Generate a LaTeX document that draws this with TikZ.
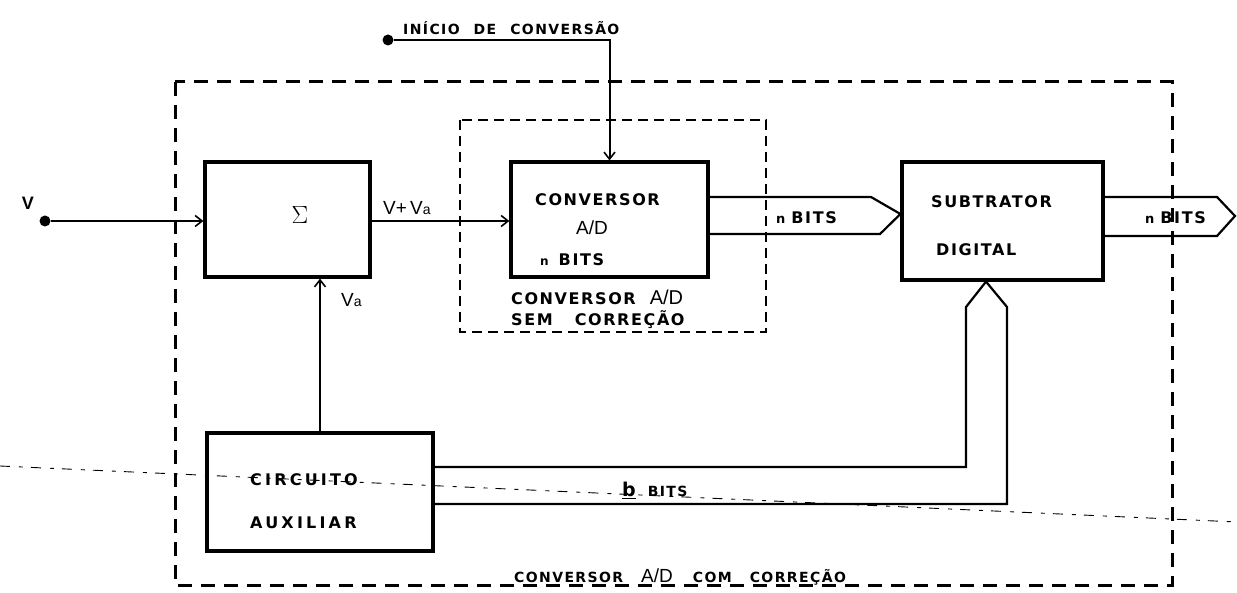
\documentclass[tikz,border=0pt]{standalone}
\usepackage{fontspec}
\newfontfamily\stencil{DejaVu Sans}[LetterSpace=10]
\newfontfamily\stencilw{DejaVu Sans}[LetterSpace=20]
\newfontfamily\plain{Liberation Sans}
\usetikzlibrary{arrows.meta,positioning,calc}

\begin{document}
\begin{tikzpicture}[x=1pt,y=-1pt,
  box/.style={draw,line width=3.2pt,inner sep=0pt},
  wire/.style={line width=2pt},
  ar/.style={wire,-{Straight Barb[length=7pt,width=11pt,line width=1.6pt]}},
  bus/.style={line width=2.2pt,line join=miter},
  frame/.style={line width=3pt,dash pattern=on 14pt off 9pt},
  big/.style={font=\stencil\bfseries\fontsize{16}{16}\selectfont,inner sep=0pt},
  wide/.style={font=\stencilw\bfseries\fontsize{16}{16}\selectfont,inner sep=0pt},
  mid/.style={font=\stencil\bfseries\fontsize{14}{14}\selectfont,inner sep=0pt},
  thin/.style={font=\plain\fontsize{19}{19}\selectfont,inner sep=0pt},
  dot/.style={circle,fill,inner sep=0pt,minimum size=11pt}]
 \useasboundingbox (0,0) rectangle (1237,593);
 \node[box,minimum width=165pt,minimum height=115pt] (sig) at (287.5,219.5) {};
 \node[box,minimum width=197pt,minimum height=115pt] (adc) at (609.5,219.5) {};
 \node[box,minimum width=201pt,minimum height=118pt] (sub) at (1002.5,221) {};
 \node[box,minimum width=226pt,minimum height=118pt] (aux) at (320,492) {};
 \node[thin,font=\fontsize{26}{26}\selectfont] (sum) at (300,215) {$\Sigma$};
 \node[big,anchor=west] (adc1) at (535,200) {CONVERSOR};
 \node[thin] (adc2) at (592,228) {A/D};
 \node[big,anchor=west] (adc3) at (540,260) {{\fontsize{12}{12}\selectfont n}\hspace{10pt}BITS};
 \node[big,anchor=west] (sub1) at (931,202) {SUBTRATOR};
 \node[big,anchor=west] (sub2) at (936,250) {DIGITAL};
 \node[wide,anchor=west] (aux1) at (250,480) {CIRCUITO};
 \node[wide,anchor=west] (aux2) at (250,523) {AUXILIAR};
 \node[big,anchor=west] (in1) at (511,297) {CONVERSOR\hspace{14pt}{\plain\mdseries\fontsize{20}{20}\selectfont A/D}};
 \node[big,anchor=west] (in2) at (511,320) {SEM\hspace{22pt}CORREÇÃO};
 \node[mid,anchor=west] (out1) at (514,577) {CONVERSOR\hspace{18pt}{\plain\mdseries\fontsize{19}{19}\selectfont A/D}\hspace{20pt}COM\hspace{18pt}CORREÇÃO};
 \node[mid,anchor=west] (st) at (403,28) {INÍCIO\hspace{14pt}DE\hspace{14pt}CONVERSÃO};
 \node[thin,font=\plain\bfseries\fontsize{18}{18}\selectfont] (vl) at (28,203) {V};
 \node[thin,anchor=west] (vsum) at (383,208) {V+\,V{\fontsize{14}{14}\selectfont a}};
 \node[thin,anchor=west] (va) at (341,300) {V{\fontsize{14}{14}\selectfont a}};
 \node[big,anchor=west] (nb1) at (776,218) {{\fontsize{13}{13}\selectfont n}\hspace{6pt}BITS};
 \node[big,anchor=west] (nb2) at (1145,218) {{\fontsize{13}{13}\selectfont n}\hspace{6pt}BITS};
 \node[mid,anchor=west] (bb) at (622,490) {\underline{\fontsize{19}{19}\selectfont b}\hspace{12pt}BITS};
 \node[dot] (vin) at (45,221) {};
 \node[dot] (ini) at (388,40) {};
 \draw[ar] (vin) -- (vin -| sig.west);
 \draw[ar] (sig.east |- vin) -- (adc.west |- vin);
 \draw[ar] (ini) -| (adc.north);
 \draw[ar] (aux.north) -- (aux.north |- sig.south);
 \draw[bus] (adc.east |- 0,197) -- (871,197) -- (sub.west |- 0,214) -- (880,234) -- (adc.east |- 0,234);
 \coordinate (out) at (1235,216);
 \draw[bus] (sub.east |- 0,197) -- (1217,197) -- (out) -- (1217,236) -- (sub.east |- 0,236);
 \draw[bus] (aux.east |- 0,467) -- (966,467) -- (966,307) -- (sub.south -| 986,0) -- (1007,307) -- (1007,504) -- (aux.east |- 0,504);
 \draw[frame] (175,82) rectangle (1172,585);
 \draw[frame,line width=2pt,dash pattern=on 10pt off 6pt] (460,120) rectangle (766,332);
 \draw[line width=0.9pt,dash pattern=on 10pt off 9pt on 4pt off 8pt] (0,466) -- (1237,522);
\end{tikzpicture}
\end{document}
